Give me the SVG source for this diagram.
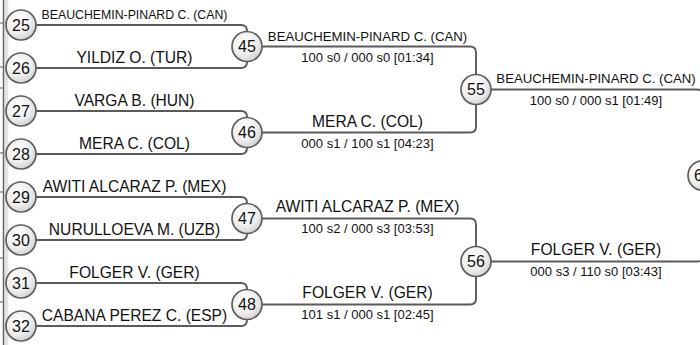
<svg xmlns="http://www.w3.org/2000/svg" width="700" height="345" viewBox="0 0 700 345">
<defs>
<radialGradient id="g" cx="0.4" cy="0.35" r="0.7">
<stop offset="0" stop-color="#ffffff"/>
<stop offset="0.6" stop-color="#eeeeee"/>
<stop offset="1" stop-color="#cfcfcf"/>
</radialGradient>
</defs>
<style>
.c{fill:url(#g);stroke:#5e5e5e;stroke-width:1.7}
.n{font-family:"Liberation Sans",Arial,sans-serif;font-size:16px;fill:#111;text-anchor:middle}
.nm{font-family:"Liberation Sans",Arial,sans-serif;font-size:15.6px;fill:#111;text-anchor:middle}
.sc{font-family:"Liberation Sans",Arial,sans-serif;font-size:13px;fill:#111;text-anchor:middle}
.ln{fill:none;stroke:#5a5a5a;stroke-width:1.9}
</style>
<rect x="0" y="0" width="700" height="345" fill="#ffffff"/>
<g id="edge">
<rect x="4.3" y="0" width="4" height="345" fill="#e4e4e4"/>
<line x1="3.5" y1="0" x2="3.5" y2="345" stroke="#666" stroke-width="1.5"/>
<g stroke="#777" stroke-width="1.2">
<line x1="0" y1="23" x2="3" y2="23"/>
<line x1="0" y1="67" x2="3" y2="67"/>
<line x1="0" y1="88" x2="3" y2="88"/>
<line x1="0" y1="153" x2="3" y2="153"/>
<line x1="0" y1="192" x2="3" y2="192"/>
<line x1="0" y1="258" x2="3" y2="258"/>
<line x1="0" y1="302" x2="3" y2="302"/>
</g>
</g>
<g id="connectors" class="ln">
<path d="M21,25 H241 Q247,25 247,31 V62 Q247,68 241,68 H21"/>
<path d="M21,111 H241 Q247,111 247,117 V148 Q247,154 241,154 H21"/>
<path d="M21,197 H241 Q247,197 247,203 V234 Q247,240 241,240 H21"/>
<path d="M21,283 H241 Q247,283 247,289 V320 Q247,326 241,326 H21"/>
<path d="M247,46.5 H470 Q476,46.5 476,52.5 V126.5 Q476,132.5 470,132.5 H247"/>
<path d="M247,218.5 H470 Q476,218.5 476,224.5 V298.5 Q476,304.5 470,304.5 H247"/>
<path d="M476,89.5 H697 Q703,89.5 703,95.5 V255.5 Q703,261.5 697,261.5 H476"/>
</g>
<g id="labels">
<text class="nm" x="134.5" y="18.5" style="font-size:12.3px">BEAUCHEMIN-PINARD C. (CAN)</text>
<text class="nm" x="134.5" y="62.5">YILDIZ O. (TUR)</text>
<text class="nm" x="134.5" y="105.5">VARGA B. (HUN)</text>
<text class="nm" x="134.5" y="148.5">MERA C. (COL)</text>
<text class="nm" x="134.5" y="191.5">AWITI ALCARAZ P. (MEX)</text>
<text class="nm" x="134.5" y="234.5">NURULLOEVA M. (UZB)</text>
<text class="nm" x="134.5" y="277.5">FOLGER V. (GER)</text>
<text class="nm" x="134.5" y="320.5">CABANA PEREZ C. (ESP)</text>
<text class="nm" x="367.5" y="40.5" style="font-size:13.2px">BEAUCHEMIN-PINARD C. (CAN)</text>
<text class="sc" x="367.5" y="61.5">100 s0 / 000 s0 [01:34]</text>
<text class="nm" x="367.5" y="126.5">MERA C. (COL)</text>
<text class="sc" x="367.5" y="147.5">000 s1 / 100 s1 [04:23]</text>
<text class="nm" x="367.5" y="212">AWITI ALCARAZ P. (MEX)</text>
<text class="sc" x="367.5" y="233">100 s2 / 000 s3 [03:53]</text>
<text class="nm" x="367.5" y="298">FOLGER V. (GER)</text>
<text class="sc" x="367.5" y="319">101 s1 / 000 s1 [02:45]</text>
<text class="nm" x="596" y="82.5" style="font-size:13.2px">BEAUCHEMIN-PINARD C. (CAN)</text>
<text class="sc" x="596" y="104.5">100 s0 / 000 s1 [01:49]</text>
<text class="nm" x="596" y="254.5">FOLGER V. (GER)</text>
<text class="sc" x="596" y="276">000 s3 / 110 s0 [03:43]</text>
</g>
<g id="n25"><circle class="c" cx="21" cy="25" r="15"/><text class="n" x="21" y="30.5">25</text></g>
<g id="n26"><circle class="c" cx="21" cy="68" r="15"/><text class="n" x="21" y="73.5">26</text></g>
<g id="n27"><circle class="c" cx="21" cy="111" r="15"/><text class="n" x="21" y="116.5">27</text></g>
<g id="n28"><circle class="c" cx="21" cy="154" r="15"/><text class="n" x="21" y="159.5">28</text></g>
<g id="n29"><circle class="c" cx="21" cy="197" r="15"/><text class="n" x="21" y="202.5">29</text></g>
<g id="n30"><circle class="c" cx="21" cy="240" r="15"/><text class="n" x="21" y="245.5">30</text></g>
<g id="n31"><circle class="c" cx="21" cy="283" r="15"/><text class="n" x="21" y="288.5">31</text></g>
<g id="n32"><circle class="c" cx="21" cy="326" r="15"/><text class="n" x="21" y="331.5">32</text></g>
<g id="n45"><circle class="c" cx="247" cy="46.5" r="15"/><text class="n" x="247" y="52">45</text></g>
<g id="n46"><circle class="c" cx="247" cy="132.5" r="15"/><text class="n" x="247" y="138">46</text></g>
<g id="n47"><circle class="c" cx="247" cy="218.5" r="15"/><text class="n" x="247" y="224">47</text></g>
<g id="n48"><circle class="c" cx="247" cy="304.5" r="15"/><text class="n" x="247" y="310">48</text></g>
<g id="n55"><circle class="c" cx="476" cy="89.5" r="15"/><text class="n" x="476" y="95">55</text></g>
<g id="n56"><circle class="c" cx="476" cy="261.5" r="15"/><text class="n" x="476" y="267">56</text></g>
<g id="n60"><circle class="c" cx="703" cy="175.5" r="15"/><text class="n" x="703" y="181">60</text></g>
</svg>
